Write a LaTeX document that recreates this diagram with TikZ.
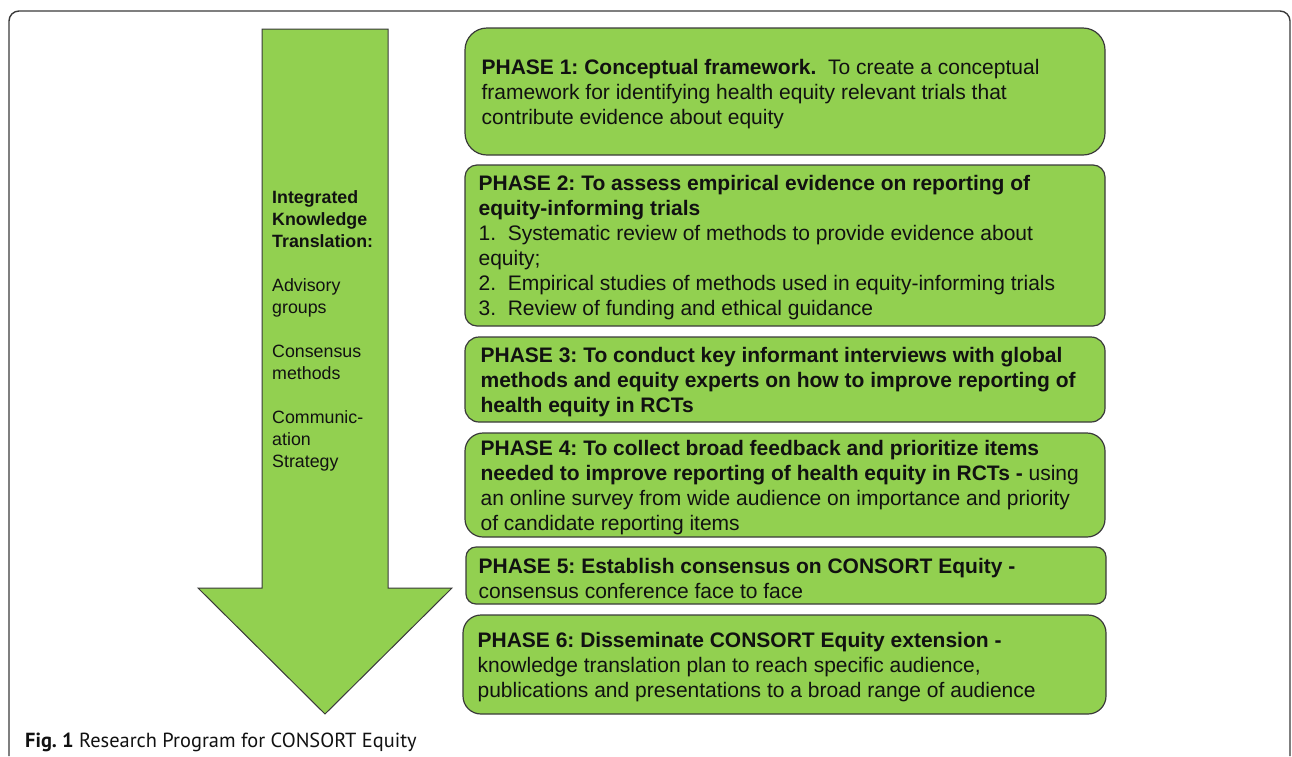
\documentclass[tikz,border=0pt]{standalone}
\usepackage{fontspec}
\setmainfont{Liberation Sans}
\newfontfamily\capfont{PT Sans}
\definecolor{phasegreen}{HTML}{92D050}
\definecolor{edgegray}{HTML}{3A3A3A}
\definecolor{txt}{HTML}{111111}
\begin{document}
\frenchspacing
\begin{tikzpicture}[x=1pt,y=-1pt,
  phasebox/.style={draw=edgegray, line width=1.2pt, fill=phasegreen, inner sep=0pt},
  phasetext/.style={anchor=west, inner sep=0pt, text=txt, align=left,
    font=\fontsize{21}{25}\selectfont},
  arrowshape/.style={draw=edgegray, line width=1pt, fill=phasegreen},
  frameline/.style={draw=edgegray, line width=1.4pt}
]
\useasboundingbox (0,0) rectangle (1292,756);
% outer frame
\draw[frameline, rounded corners=10pt] (9,756) -- (9,11) -- (1290,11) -- (1290,756);

% big arrow
\draw[arrowshape] (262,29) -- (388,29) -- (388,588) -- (452,588) -- (325,714) -- (198,588) -- (262,588) -- cycle;
\node[anchor=north west, inner sep=0pt, align=left, text=txt,
  font=\fontsize{17.8}{22}\selectfont] (ikt) at (272,190.5)
  {\textbf{Integrated}\\ \textbf{Knowledge}\\ \textbf{Translation:}\\[22pt]
   Advisory\\ groups\\[22pt]
   Consensus\\ methods\\[22pt]
   Communic-\\ ation\\ Strategy};

% phase boxes
\node[phasebox, rounded corners=22pt, minimum width=640pt, minimum height=127pt] (b1) at (785,91.5) {};
\node[phasebox, rounded corners=12pt, minimum width=640pt, minimum height=161pt] (b2) at (785,245.5) {};
\node[phasebox, rounded corners=14pt, minimum width=640pt, minimum height=85pt] (b3) at (785,379.5) {};
\node[phasebox, rounded corners=18pt, minimum width=640pt, minimum height=104pt] (b4) at (785,485) {};
\node[phasebox, rounded corners=10pt, minimum width=640pt, minimum height=57pt] (b5) at (786,575.5) {};
\node[phasebox, rounded corners=18pt, minimum width=643pt, minimum height=99pt] (b6) at (784.5,664.5) {};

% phase texts
\node[phasetext] (p1) at ([xshift=17pt,yshift=-2.5pt]b1.west)
  {\textbf{PHASE 1: Conceptual framework.}\ \ To create a conceptual\\
   framework for identifying health equity relevant trials that\\
   contribute evidence about equity};
\node[phasetext] (p2) at ([xshift=14pt,yshift=-2.5pt]b2.west)
  {\textbf{PHASE 2: To assess empirical evidence on reporting of}\\
   \textbf{equity-informing trials}\\
   1.\ \ Systematic review of methods to provide evidence about\\
   equity;\\
   2.\ \ Empirical studies of methods used in equity-informing trials\\
   3.\ \ Review of funding and ethical guidance};
\node[phasetext] (p3) at ([xshift=16pt,yshift=-2.5pt]b3.west)
  {\textbf{PHASE 3: To conduct key informant interviews with global}\\
   \textbf{methods and equity experts on how to improve reporting of}\\
   \textbf{health equity in RCTs}};
\node[phasetext] (p4) at ([xshift=16pt,yshift=-2.5pt]b4.west)
  {\textbf{PHASE 4: To collect broad feedback and prioritize items}\\
   \textbf{needed to improve reporting of health equity in RCTs -} using\\
   an online survey from wide audience on importance and priority\\
   of candidate reporting items};
\node[phasetext] (p5) at ([xshift=13pt,yshift=-2.5pt]b5.west)
  {\textbf{PHASE 5: Establish consensus on CONSORT Equity -}\\
   consensus conference face to face};
\node[phasetext] (p6) at ([xshift=15pt,yshift=-2.5pt]b6.west)
  {\textbf{PHASE 6: Disseminate CONSORT Equity extension -}\\
   knowledge translation plan to reach specific audience,\\
   publications and presentations to a broad range of audience};

% caption
\node[anchor=base west, inner sep=0pt, text=txt, font=\capfont\fontsize{20.4}{24}\selectfont] (cap) at (25,747)
  {\textbf{Fig. 1} Research Program for CONSORT Equity};
\end{tikzpicture}
\end{document}
